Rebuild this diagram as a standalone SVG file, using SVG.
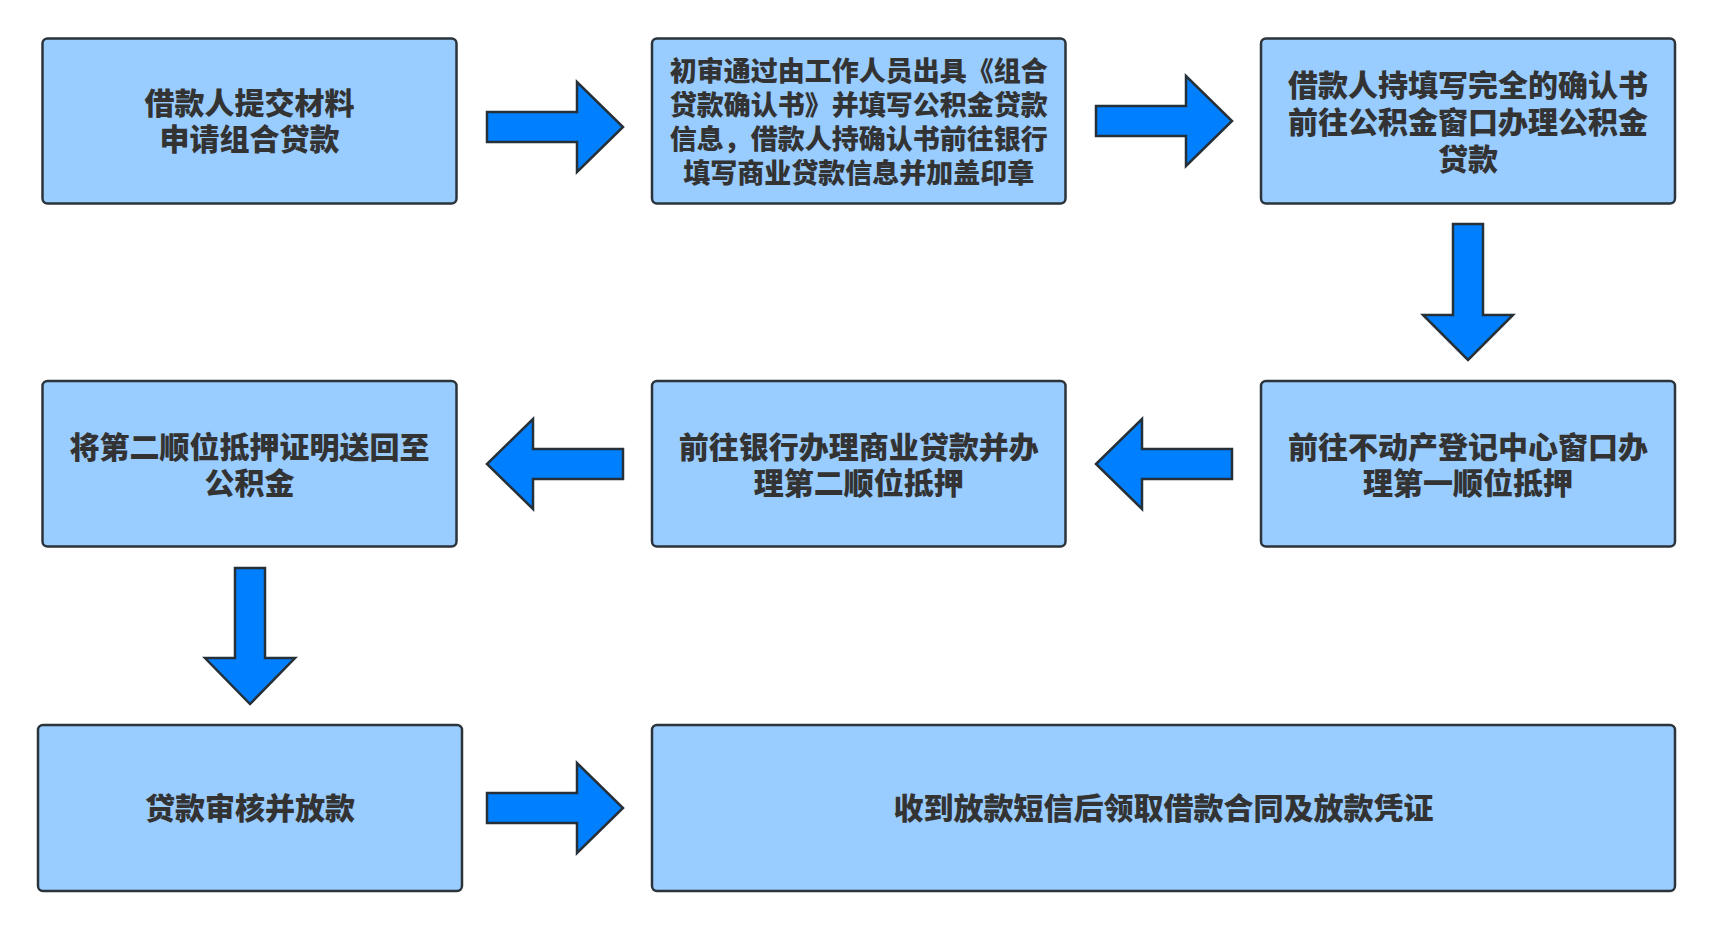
<svg xmlns="http://www.w3.org/2000/svg" width="1712" height="928" viewBox="0 0 1712 928">
<style>
.box{fill:#99CCFF;stroke:#2B333B;stroke-width:2.5}
.arr{fill:#0080FF;stroke:#263038;stroke-width:2.5;stroke-linejoin:miter}
.t{font-family:"Noto Sans CJK SC","Noto Sans",sans-serif;font-weight:900;font-size:30px;fill:#333333;text-anchor:middle;dominant-baseline:central}
.s{font-size:27px}
</style>
<rect width="1712" height="928" fill="#FFFFFF"/>
<g id="connectors">
<path class="arr" d="M487,112 H577 V82 L623,127 L577,172 V142 H487 Z"/>
<path class="arr" d="M1096,106 H1186 V76 L1232,121 L1186,166 V136 H1096 Z"/>
<path class="arr" d="M1453,224 V315 H1423 L1468,360 L1513,315 H1483 V224 Z"/>
<path class="arr" d="M1232,449 H1142 V419 L1096,464 L1142,509 V479 H1232 Z"/>
<path class="arr" d="M623,449 H533 V419 L487,464 L533,509 V479 H623 Z"/>
<path class="arr" d="M235,568 V658 H205 L250,704 L295,658 H265 V568 Z"/>
<path class="arr" d="M487,793 H577 V763 L623,808 L577,853 V823 H487 Z"/>
</g>
<g id="node1">
<rect class="box" x="42.5" y="38.5" width="414" height="165" rx="5"/>
<text class="t" x="249.5" y="101"><tspan x="249.5">借款人提交材料</tspan><tspan x="249.5" dy="36">申请组合贷款</tspan></text>
</g>
<g id="node2">
<rect class="box" x="652" y="38.5" width="413.5" height="165" rx="5"/>
<text class="t s" x="858.7" y="68.5"><tspan x="858.7">初审通过由工作人员出具《组合</tspan><tspan x="858.7" dy="34">贷款确认书》并填写公积金贷款</tspan><tspan x="858.7" dy="34">信息，借款人持确认书前往银行</tspan><tspan x="858.7" dy="34">填写商业贷款信息并加盖印章</tspan></text>
</g>
<g id="node3">
<rect class="box" x="1261" y="38.5" width="414" height="165" rx="5"/>
<text class="t" x="1468" y="83"><tspan x="1468">借款人持填写完全的确认书</tspan><tspan x="1468" dy="37">前往公积金窗口办理公积金</tspan><tspan x="1468" dy="37">贷款</tspan></text>
</g>
<g id="node4">
<rect class="box" x="1261" y="381" width="414" height="165.5" rx="5"/>
<text class="t" x="1468" y="444.5"><tspan x="1468">前往不动产登记中心窗口办</tspan><tspan x="1468" dy="36">理第一顺位抵押</tspan></text>
</g>
<g id="node5">
<rect class="box" x="652" y="381" width="413.5" height="165.5" rx="5"/>
<text class="t" x="858.7" y="444.5"><tspan x="858.7">前往银行办理商业贷款并办</tspan><tspan x="858.7" dy="36">理第二顺位抵押</tspan></text>
</g>
<g id="node6">
<rect class="box" x="42.5" y="381" width="414" height="165.5" rx="5"/>
<text class="t" x="249.5" y="444.5"><tspan x="249.5">将第二顺位抵押证明送回至</tspan><tspan x="249.5" dy="36">公积金</tspan></text>
</g>
<g id="node7">
<rect class="box" x="38" y="725" width="424" height="166" rx="5"/>
<text class="t" x="250" y="806">贷款审核并放款</text>
</g>
<g id="node8">
<rect class="box" x="652" y="725" width="1023" height="166" rx="5"/>
<text class="t" x="1163.5" y="806">收到放款短信后领取借款合同及放款凭证</text>
</g>
</svg>
